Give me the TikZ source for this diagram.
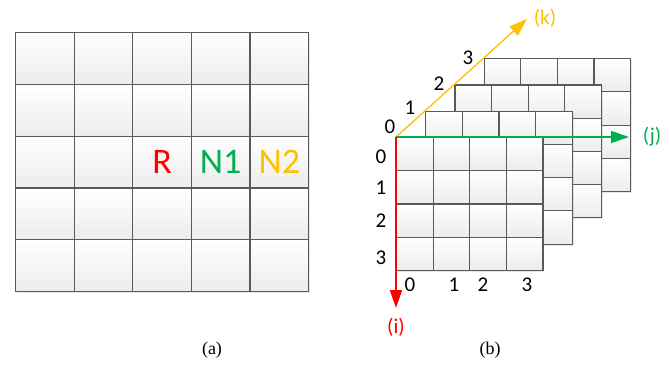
\documentclass[tikz,border=0pt]{standalone}
\usepackage{fontspec}
\setmainfont{Liberation Serif}
\newfontfamily\calib{Carlito}
\usetikzlibrary{arrows.meta, shadows}
\definecolor{offred}{RGB}{255,0,0}
\definecolor{offgreen}{RGB}{0,176,80}
\definecolor{offgold}{RGB}{255,192,0}
\definecolor{gridline}{RGB}{90,90,90}

\tikzset{
  cell/.style={draw=gridline, line width=1.1pt, top color=white, bottom color=gray!15,
               inner sep=0pt, anchor=north west,
               drop shadow={shadow xshift=1.5pt, shadow yshift=-1.5pt, opacity=0.2}},
  bigcell/.style={cell, minimum width=58.6pt, minimum height=51.8pt},
  smallcell/.style={cell, minimum width=36.6pt, minimum height=33.2pt},
  celltag/.style={font=\calib\fontsize{36}{36}\selectfont},
  idx/.style={font=\calib\fontsize{21}{21}\selectfont},
  axis/.style={line width=1.8pt, -{Triangle[length=18pt, width=12pt]}},
  caption/.style={font=\fontsize{18}{18}\selectfont}
}

\begin{document}
\begin{tikzpicture}[x=1pt, y=-1pt]
\useasboundingbox (0,0) rectangle (670,375);

% (a) plane
\foreach \r in {0,...,4}
  \foreach \c in {0,...,4}
    \node[bigcell] (a-\r-\c) at ({15+58.6*\c},{32+51.8*\r}) {};
\node[celltag, text=offred] (r) at (a-2-2) {R};
\node[celltag, text=offgreen] (n1) at (a-2-3) {N1};
\node[celltag, text=offgold] (n2) at (a-2-4) {N2};

% (b) stacked layers, back to front
\foreach \l in {3,2,1,0}
  \foreach \r in {0,...,3}
    \foreach \c in {0,...,3}
      \node[smallcell] (b-\l-\r-\c) at ({396+29.2*\l+36.6*\c},{137-26.3*\l+33.2*\r}) {};

\coordinate (o) at (396,137);
\coordinate (itip) at (396,308);
\coordinate (jtip) at (629,137);
\coordinate (ktip) at (527,19);
\draw[axis, offgold, line width=1.3pt] (o) -- (ktip);
\draw[axis, offgreen] (o) -- (jtip);
\draw[axis, offred] (o) -- (itip);
\node[idx, text=offgold] (klab) at (545,18) {(k)};
\node[idx, text=offgreen] (jlab) at (652,137) {(j)};
\node[idx, text=offred] (ilab) at (396,327) {(i)};

\foreach \n/\x/\y in {0/390/127, 1/410/108, 2/439/84, 3/468/58}
  \node[idx] (k\n) at (\x,\y) {\n};
\foreach \n/\y in {0/157, 1/188, 2/221, 3/258}
  \node[idx] (i\n) at (381,\y) {\n};
\foreach \n/\x in {0/410, 1/454, 2/483, 3/527}
  \node[idx] (j\n) at (\x,285) {\n};

\node[caption] (capa) at (212,350) {(a)};
\node[caption] (capb) at (490,350) {(b)};
\end{tikzpicture}
\end{document}
